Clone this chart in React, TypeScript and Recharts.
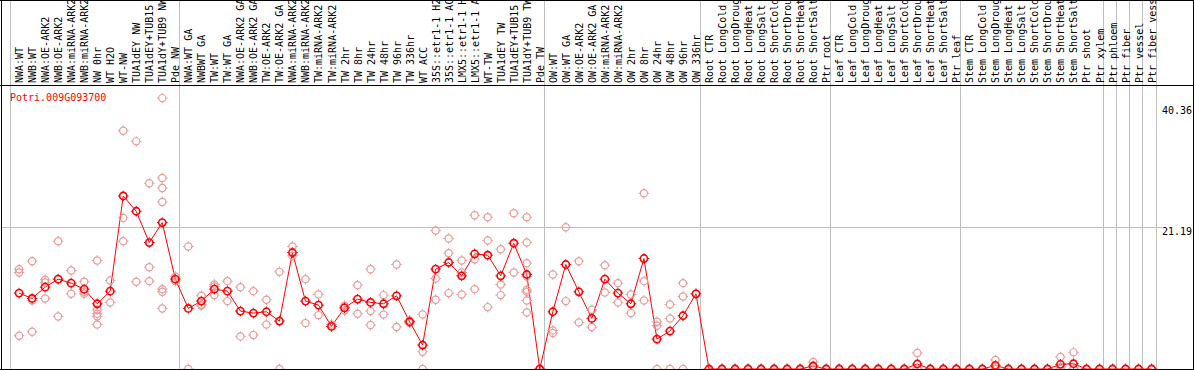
import { ComposedChart, Line, ReferenceLine, Scatter, XAxis, YAxis } from "recharts";

const GENE = "Potri.009G093700";

const LABELS = [
  "NWA:WT", "NWB:WT", "NWA:OE-ARK2", "NWB:OE-ARK2", "NWA:miRNA-ARK2", "NWB:miRNA-ARK2",
  "NW 0hr", "WT H2O", "WT-NW", "TUA1dEY NW", "TUA1dEY+TUB15 NW", "TUA1dY+TUB9 NW", "Pde NW",
  "NWA:WT GA", "NWBWT GA", "TW:WT", "TW:WT GA", "NWA:OE-ARK2 GA", "NWB:OE-ARK2 GA",
  "TW:OE-ARK2", "TW:OE-ARK2 GA", "NWA:miRNA-ARK2 GA", "NWB:miRNA-ARK2 GA", "TW:miRNA-ARK2",
  "TW:miRNA-ARK2 GA", "TW 2hr", "TW 8hr", "TW 24hr", "TW 48hr", "TW 96hr", "TW 336hr", "WT ACC",
  "35S::etr1-1 H2O", "35S::etr1-1 ACC", "LMX5::etr1-1 H2O", "LMX5::etr1-1 ACC", "WT-TW",
  "TUA1dEY TW", "TUA1dEY+TUB15 TW", "TUA1dY+TUB9 TW", "Pde TW",
  "OW:WT", "OW:WT GA", "OW:OE-ARK2", "OW:OE-ARK2 GA", "OW:miRNA-ARK2", "OW:miRNA-ARK2 GA",
  "OW 2hr", "OW 8hr", "OW 24hr", "OW 48hr", "OW 96hr", "OW 336hr",
  "Root CTR", "Root LongCold", "Root LongDrought", "Root LongHeat", "Root LongSalt",
  "Root ShortCold", "Root ShortDrought", "Root ShortHeat", "Root ShortSalt", "Ptr root",
  "Leaf CTR", "Leaf LongCold", "Leaf LongDrought", "Leaf LongHeat", "Leaf LongSalt",
  "Leaf ShortCold", "Leaf ShortDrought", "Leaf ShortHeat", "Leaf ShortSalt", "Ptr leaf",
  "Stem CTR", "Stem LongCold", "Stem LongDrought", "Stem LongHeat", "Stem LongSalt",
  "Stem ShortCold", "Stem ShortDrought", "Stem ShortHeat", "Stem ShortSalt", "Ptr shoot",
  "Ptr xylem", "Ptr phloem", "Ptr fiber", "Ptr vessel", "Ptr fiber vessel",
];

// mean expression per sample (red line)
const MEANS = [
  11.4, 10.6, 12.3, 13.5, 12.9, 12.0, 9.8, 11.7, 26.0, 23.7, 19.0, 22.0, 13.5,
  9.1, 10.2, 12.0, 11.7, 8.7, 8.4, 8.6, 7.2, 17.5, 10.2, 9.6, 6.4, 9.2, 10.5, 10.0, 9.8, 11.0,
  7.1, 3.6, 15.0, 16.0, 14.0, 17.3, 17.1, 14.0, 18.9, 14.2, 0,
  8.6, 15.7, 11.6, 7.6, 13.5, 11.4, 9.8, 16.6, 4.5, 5.7, 8.0, 11.3,
  0, 0, 0, 0, 0, 0, 0, 0, 0.45, 0,
  0, 0, 0, 0, 0, 0, 0.75, 0, 0, 0,
  0, 0, 0.55, 0, 0, 0, 0, 0.7, 0.8, 0, 0,
  0, 0, 0, 0,
];

// individual replicates (pink circles)
const REPLICATES = [
  [15.0, 14.5, 5.0], [16.2, 10.3, 5.6], [13.4, 13.0, 10.6], [19.2, 13.5, 7.9], [14.8, 11.3],
  [13.1, 11.6, 11.3], [16.3, 8.9, 8.3, 7.9, 6.7], [13.3, 10.0], [35.8, 22.7, 19.2], [34.2, 13.1],
  [27.9, 15.3, 13.2], [40.7, 28.7, 27.2, 25.1, 12.0, 11.6, 9.1], [13.9, 13.2],
  [18.4, 0], [11.0, 9.7, 9.5], [12.7, 12.4, 11.1], [13.2, 10.2], [12.3, 4.9], [11.7, 5.1],
  [10.4, 6.7], [14.6, 0], [18.4, 17.0], [13.5, 6.9], [11.2, 8.1], [6.7, 6.4], [9.5, 8.8],
  [12.6, 8.3], [15.0, 8.7, 6.6], [11.1, 8.2], [15.7, 6.3], [7.3, 6.9], [8.2, 2.6, 0],
  [20.8, 13.6, 10.4], [19.6, 17.4, 11.4], [16.3, 14.5, 11.2], [23.1, 16.5, 12.0],
  [22.8, 19.3, 9.3], [18.0, 12.7, 11.1], [23.4, 14.5],
  [22.8, 19.0, 15.9, 13.9, 11.9, 11.6, 10.3, 8.5], [0, 0],
  [14.2, 5.8, 5.4], [21.3, 10.2], [16.2, 7.0], [8.9, 6.3], [15.6, 11.5], [12.9, 10.0],
  [11.2, 8.4], [26.4, 13.2, 10.3], [7.1, 6.5, 0], [9.7, 7.6, 0], [12.9, 10.9, 0], [11.3],
  [0, 0], [0, 0], [0, 0], [0, 0], [0, 0], [0, 0], [0, 0], [0, 0], [1.05, 0.3, 0], [0, 0],
  [0, 0], [0, 0], [0, 0], [0, 0], [0, 0], [0, 0], [2.4, 0, 0], [0, 0], [0, 0], [0, 0],
  [0, 0], [0, 0], [1.35, 0.3, 0], [0, 0], [0, 0], [0, 0], [0, 0], [1.8, 0.3, 0], [2.5, 0, 0],
  [0, 0], [0, 0],
  [0, 0], [0, 0], [0, 0], [0, 0],
];

const GROUP_EDGES = [0, 13, 41, 53, 63, 73, 84, 85, 86, 87, 88];
const Y_TICKS = [0, 21.19, 40.36];

const W = 1194;
const H = 370;
const MARK_OFFSET = 0.66; // markers sit right of the column centre
const Y_MAX = 42.67;
const RED = "#ff0000";
const PINK = "#ec9a9a";
const GRID = "#c0c0c0";
const FONT = '"DejaVu Sans Mono", monospace';

const meanData = MEANS.map((v, i) => ({ x: i + MARK_OFFSET, mean: v }));
const repData = REPLICATES.flatMap((vals, i) => vals.map((v) => ({ x: i + MARK_OFFSET, value: v })));
const xTicks = LABELS.map((_, i) => i + MARK_OFFSET);

const Ring = ({ cx, cy, color, w }: any) => (
  <g>
    <circle cx={cx} cy={cy} r={3.6} fill="none" stroke={color} strokeWidth={w} />
    <path
      d={`M${cx - 5.3},${cy}h1.6M${cx + 3.7},${cy}h1.6M${cx},${cy - 5.3}v1.6M${cx},${cy + 3.7}v1.6`}
      stroke={color}
      strokeWidth={1}
    />
  </g>
);

const SampleTick = ({ x, payload }: any) => {
  const i = Math.round(payload.value - MARK_OFFSET);
  return (
    <text transform={`translate(${x + 4},83) rotate(-90)`} fontFamily={FONT} fontSize={10} fill="#000">
      {LABELS[i]}
    </text>
  );
};

const VALUE_DY = [-3, 7.5, 14];
const ValueTick = ({ y, payload }: any) => {
  const k = Y_TICKS.indexOf(payload.value);
  return (
    <text x={1162} y={y + VALUE_DY[k]} fontFamily={FONT} fontSize={10} fill="#000">
      {payload.value}
    </text>
  );
};

const VLine = (p: any) => (
  <line x1={p.x1} x2={p.x2} y1={0} y2={Math.max(p.y1, p.y2)} stroke={GRID} shapeRendering="crispEdges" />
);
const HLine = (p: any) => (
  <line x1={2} x2={Math.max(p.x1, p.x2) + 6} y1={p.y1} y2={p.y2} stroke={GRID} shapeRendering="crispEdges" />
);

export default function App() {
  return (
    <div style={{ position: "absolute", left: 0, top: 0, width: W, height: H, background: "#fff" }}>
      <ComposedChart width={W} height={H} data={meanData} margin={{ top: 0, right: 0, bottom: 1, left: 10.5 }}>
        <XAxis
          xAxisId={0}
          orientation="top"
          type="number"
          dataKey="x"
          domain={[0, 88]}
          ticks={xTicks}
          interval={0}
          height={85}
          axisLine={false}
          tickLine={false}
          tick={<SampleTick />}
        />
        <YAxis
          orientation="right"
          type="number"
          domain={[0, Y_MAX]}
          ticks={Y_TICKS}
          width={38}
          axisLine={false}
          tickLine={false}
          tick={<ValueTick />}
        />
        {GROUP_EDGES.map((b) => (
          <ReferenceLine key={b} x={b} ifOverflow="visible" shape={VLine} />
        ))}
        <ReferenceLine y={21.19} ifOverflow="visible" shape={HLine} />
        <Scatter
          data={repData}
          dataKey="value"
          isAnimationActive={false}
          shape={(p: any) => <Ring cx={p.cx} cy={p.cy} color={PINK} w={1.2} />}
        />
        <Line
          dataKey="mean"
          type="linear"
          stroke={RED}
          strokeWidth={1}
          isAnimationActive={false}
          dot={(p: any) => <Ring key={p.index} cx={p.cx} cy={p.cy} color={RED} w={1.6} />}
          activeDot={false}
        />
      </ComposedChart>
      <svg
        width={W}
        height={H}
        style={{ position: "absolute", left: 0, top: 0, pointerEvents: "none" }}
        shapeRendering="crispEdges"
      >
        <text x={10} y={101} fontFamily={FONT} fontSize={10} fill={RED} shapeRendering="auto">
          {GENE}
        </text>
        <line x1={0} x2={W} y1={0.5} y2={0.5} stroke="#000" />
        <line x1={0} x2={W} y1={85.5} y2={85.5} stroke="#000" />
        <line x1={0} x2={W} y1={369.5} y2={369.5} stroke="#000" />
        <line x1={1.5} x2={1.5} y1={0} y2={H} stroke="#000" />
        <line x1={1193.5} x2={1193.5} y1={0} y2={H} stroke="#000" />
      </svg>
    </div>
  );
}
